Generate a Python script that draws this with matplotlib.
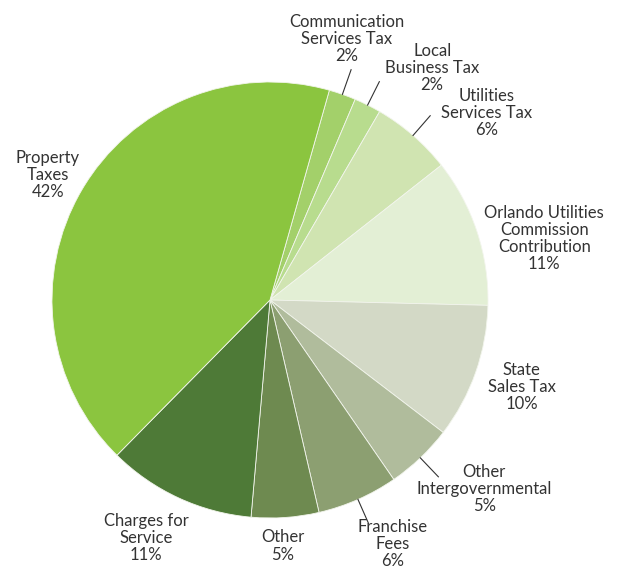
import numpy as np
import matplotlib
matplotlib.use("Agg")
import matplotlib.pyplot as plt

plt.rcParams['font.family'] = ['Lato', 'DejaVu Sans']

labels = ['Communication\nServices Tax', 'Local\nBusiness Tax', 'Utilities\nServices Tax',
          'Orlando Utilities\nCommission\nContribution', 'State\nSales Tax',
          'Other\nIntergovernmental', 'Franchise\nFees', 'Other',
          'Charges for\nService', 'Property\nTaxes']
shares = [2, 2, 6, 11, 10, 5, 6, 5, 11, 42]
colors = ['#a3d06a', '#b8dc8e', '#d0e4b1', '#e3efd5', '#d3d9c6',
          '#b0bc9c', '#8c9f71', '#6e8a50', '#4e7a37', '#8bc53f']

# label placement: (angle offset from wedge middle in degrees, radius)
label_place = [(3.0, 1.25), (-8.3, 1.30), (-8.2, 1.31), (-5.7, 1.29), (0.4, 1.22),
               (5.0, 1.31), (2.9, 1.255), (-1.0, 1.13), (-2.7, 1.23), (0.8, 1.17)]
leader = [True, True, True, False, False, True, True, False, False, False]

fig = plt.figure(figsize=(6.21, 5.71), dpi=100)
ax = fig.add_axes([0, 0, 1, 1])

wedges, _ = ax.pie(shares, colors=colors, startangle=74.2, counterclock=False,
                   radius=1.0, wedgeprops=dict(edgecolor='#f2f5ec', linewidth=0.6))

for w, lab, v, (da, r), ld in zip(wedges, labels, shares, label_place, leader):
    mid = (w.theta1 + w.theta2) / 2
    if ld:
        t = np.radians(mid)
        ax.plot([1.0 * np.cos(t), 1.12 * np.cos(t)], [1.0 * np.sin(t), 1.12 * np.sin(t)],
                color='#333333', lw=0.8)
    a = np.radians(mid + da)
    ax.text(r * np.cos(a), r * np.sin(a), f'{lab}\n{v}%', ha='center', va='center',
            fontsize=12, color='#333333', linespacing=1.08)

ax.set_xlim(-270 / 218, 351 / 218)
ax.set_ylim(-271 / 218, 300 / 218)
ax.set_aspect('equal', adjustable='datalim')
ax.axis('off')

fig.savefig('out.png', dpi=100, facecolor='white')
